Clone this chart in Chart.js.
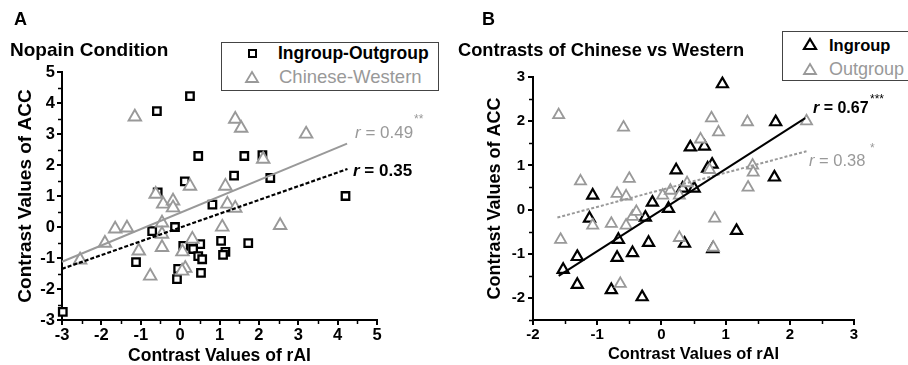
<!DOCTYPE html>
<html>
<head>
<meta charset="utf-8">
<script src="https://cdn.jsdelivr.net/npm/chart.js@4.4.1/dist/chart.umd.min.js"></script>
<style>
  html,body{margin:0;padding:0;background:#fff;}
  #wrap{position:relative;width:908px;height:365px;overflow:hidden;background:#fff;font-family:"Liberation Sans",Arial,sans-serif;}
  canvas{position:absolute;top:0;}
  .t{position:absolute;white-space:nowrap;color:#000;}
  .lb{position:absolute;border:1px solid #444;background:#fff;}
</style>
</head>
<body>
<div id="wrap">
  <canvas id="cA" width="450" height="365" style="left:0"></canvas>
  <canvas id="cB" width="458" height="365" style="left:450px"></canvas>

  <div class="t" style="left:14px;top:10px;font-size:18px;line-height:18px;font-weight:bold">A</div>
  <div class="t" style="left:10px;top:40px;font-size:19px;line-height:19px;font-weight:bold">Nopain Condition</div>
  <div class="t" style="left:482px;top:10px;font-size:18px;line-height:18px;font-weight:bold">B</div>
  <div class="t" style="left:458px;top:41px;font-size:18.3px;line-height:18.3px;font-weight:bold">Contrasts of Chinese vs Western</div>

  <!-- legend A -->
  <div class="lb" style="left:221px;top:42px;width:216px;height:47px"></div>
  <div style="position:absolute;left:248px;top:49px;width:5px;height:5px;border:2px solid #000;background:#fff"></div>
  <svg style="position:absolute;left:244px;top:70px" width="16" height="14"><polygon points="8,2 14,12 2,12" fill="#fff" stroke="#999" stroke-width="1.8"/></svg>
  <div class="t" style="left:278px;top:45px;font-size:17.5px;line-height:17.5px;font-weight:bold">Ingroup-Outgroup</div>
  <div class="t" style="left:279px;top:68px;font-size:18.5px;line-height:18.5px;color:#999">Chinese-Western</div>

  <!-- legend B -->
  <div class="lb" style="left:782px;top:31px;width:140px;height:48px"></div>
  <svg style="position:absolute;left:802px;top:37px" width="16" height="14"><polygon points="8,2 14,12 2,12" fill="#fff" stroke="#000" stroke-width="2.2"/></svg>
  <svg style="position:absolute;left:802px;top:62px" width="16" height="14"><polygon points="8,2 14,12 2,12" fill="#fff" stroke="#999" stroke-width="1.8"/></svg>
  <div class="t" style="left:829px;top:37px;font-size:16.5px;line-height:16.5px;font-weight:bold">Ingroup</div>
  <div class="t" style="left:829px;top:60px;font-size:18px;line-height:18px;color:#999">Outgroup</div>

  <!-- r annotations -->
  <div class="t" style="left:355px;top:124px;font-size:17px;line-height:17px;color:#999"><i>r</i> = 0.49</div>
  <div class="t" style="left:414px;top:113px;font-size:12px;line-height:12px;color:#999">**</div>
  <div class="t" style="left:353px;top:162px;font-size:17px;line-height:17px;font-weight:bold"><i>r</i> = 0.35</div>
  <div class="t" style="left:813px;top:100px;font-size:16px;line-height:16px;font-weight:bold"><i>r</i> = 0.67</div>
  <div class="t" style="left:870px;top:93px;font-size:12px;line-height:12px">***</div>
  <div class="t" style="left:809px;top:152px;font-size:16.5px;line-height:16.5px;color:#999"><i>r</i> = 0.38</div>
  <div class="t" style="left:870px;top:142px;font-size:12px;line-height:12px;color:#999">*</div>
</div>

<script>
// ---------- Panel A: Nopain Condition ----------
const ioX = [-0.59, 0.25, 0.46, 1.63, 2.09, 1.37, 2.29, 0.12, -0.57, 0.82, -0.13, -0.71, 4.20, -1.12, 0.08, 0.51, 0.33, 0.46, 0.56, 0.53, -0.08, 1.04, 1.15, 1.09, 1.73, -2.98, -0.05];
const ioY = [3.74, 4.22, 2.29, 2.29, 2.32, 1.66, 1.58, 1.47, 1.12, 0.72, 0.00, -0.13, 1.00, -1.13, -0.61, -0.55, -0.71, -0.94, -1.04, -1.48, -1.68, -0.45, -0.80, -0.90, -0.52, -2.74, -1.35];
const cwX = [-1.15, 1.40, 1.55, 3.20, 2.11, 0.25, 1.15, -0.62, -0.43, -0.18, -0.18, 1.20, 1.40, 2.54, 1.07, -1.65, -1.35, -0.46, -0.46, -1.91, -1.05, -0.46, 0.31, 0.06, -0.76, 0.13, 0.05, -2.54];
const cwY = [3.55, 3.48, 3.19, 3.00, 2.19, 1.32, 1.32, 1.06, 0.74, 0.84, 0.62, 0.74, 0.61, 0.05, 0.00, -0.06, -0.03, 0.13, -0.23, -0.52, -0.77, -0.66, -0.39, -0.80, -1.58, -1.33, -1.42, -1.06];
const fitCwX = [-3, 4.24], fitCwY = [-1.12, 2.69];   // r = 0.49
const fitIoX = [-3, 4.25], fitIoY = [-1.35, 1.87];   // r = 0.35

// ---------- Panel B: Contrasts of Chinese vs Western ----------
const inX = [0.95, 1.78, 0.45, 0.67, 0.79, 0.72, 0.23, 1.76, -1.07, 0.33, 0.51, -0.14, 0.11, -1.12, -0.25, -0.67, -0.20, -0.45, -0.69, -1.31, -1.53, -1.31, -0.78, -0.30, 0.36, 1.17, 0.80];
const inY = [2.84, 1.98, 1.41, 1.43, 1.02, 0.93, 0.89, 0.73, 0.32, 0.48, 0.48, 0.16, 0.02, -0.20, -0.18, -0.68, -0.75, -0.98, -1.09, -1.07, -1.36, -1.70, -1.82, -1.98, -0.77, -0.48, -0.89];
const outX = [-1.60, -0.59, 0.78, 0.89, 0.61, 1.34, 2.26, 1.42, 1.43, 1.35, -1.26, -0.50, -0.69, -0.55, 0.02, 0.14, 0.40, 0.75, -1.57, -1.07, -0.78, -0.55, -0.45, -0.39, 0.28, 0.83, 0.81, -0.64, 0.28];
const outY = [2.14, 1.86, 2.07, 1.75, 1.59, 1.98, 2.00, 1.00, 0.84, 0.50, 0.64, 0.70, 0.36, 0.30, 0.32, 0.43, 0.60, 0.90, -0.68, -0.36, -0.32, -0.36, -0.16, -0.05, -0.64, -0.20, -0.86, -1.68, 0.32];
const fitInX = [-1.60, 2.24], fitInY = [-1.50, 2.07];    // r = 0.67
const fitOutX = [-1.62, 2.26], fitOutY = [-0.18, 1.32];  // r = 0.38

const FONT = '"Liberation Sans", Arial, sans-serif';
const GRAY = '#999';

function pts(xs, ys) { return xs.map((x, i) => ({ x: x, y: ys[i] })); }

const minorTicks = {
  id: 'minorTicks',
  afterDraw(chart) {
    const ctx = chart.ctx, a = chart.chartArea, xs = chart.scales.x, ys = chart.scales.y;
    ctx.save();
    ctx.strokeStyle = '#000';
    ctx.lineWidth = 1.5;
    for (let v = Math.ceil(xs.min * 2) / 2; v <= xs.max + 1e-9; v += 0.5) {
      if (Math.abs(v - Math.round(v)) < 1e-9) continue;
      const p = Math.round(xs.getPixelForValue(v)) + 0.5;
      ctx.beginPath(); ctx.moveTo(p, a.bottom); ctx.lineTo(p, a.bottom + 4); ctx.stroke();
    }
    for (let v = Math.ceil(ys.min * 2) / 2; v <= ys.max + 1e-9; v += 0.5) {
      if (Math.abs(v - Math.round(v)) < 1e-9) continue;
      const p = Math.round(ys.getPixelForValue(v)) + 0.5;
      ctx.beginPath(); ctx.moveTo(a.left, p); ctx.lineTo(a.left - 4, p); ctx.stroke();
    }
    ctx.restore();
  }
};

function axis(min, max, tickSize, tickPad, titleText, titleSize, titlePad, fitFn) {
  return {
    type: 'linear', min: min, max: max,
    afterFit: fitFn,
    ticks: {
      stepSize: 1, padding: tickPad, color: '#000', autoSkip: false,
      font: { family: FONT, size: tickSize, weight: 'bold' },
      callback: v => (Math.abs(v - Math.round(v)) < 1e-9 ? String(Math.round(v)) : '')
    },
    grid: {
      drawOnChartArea: false, drawTicks: true, tickLength: 5, lineWidth: 2,
      color: c => (c.tick && Math.abs(c.tick.value - Math.round(c.tick.value)) < 1e-9) ? '#000' : 'rgba(0,0,0,0)'
    },
    border: { display: true, color: '#000', width: 2 },
    title: {
      display: true, text: titleText, color: '#000', padding: titlePad,
      font: { family: FONT, size: titleSize, weight: 'bold', lineHeight: 1 }
    }
  };
}

function scatterSet(label, xs, ys, style, radius, color, bw, order) {
  return {
    type: 'scatter', label: label, data: pts(xs, ys), order: order, clip: false,
    pointStyle: style, pointRadius: radius, pointHoverRadius: radius,
    pointBorderColor: color, pointBackgroundColor: '#fff', pointBorderWidth: bw,
    borderColor: color, backgroundColor: '#fff', showLine: false
  };
}
function lineSet(label, xs, ys, color, width, dash, order) {
  return {
    type: 'scatter', label: label, data: pts(xs, ys), order: order, clip: false,
    showLine: true, borderColor: color, borderWidth: width, borderDash: dash,
    pointRadius: 0, pointHoverRadius: 0, fill: false, tension: 0
  };
}

const common = {
  responsive: false, animation: false, devicePixelRatio: 1,
  plugins: { legend: { display: false }, tooltip: { enabled: false }, title: { display: false } },
  events: []
};

new Chart(document.getElementById('cA'), {
  type: 'scatter',
  data: {
    datasets: [
      lineSet('Chinese-Western fit', fitCwX, fitCwY, GRAY, 2, [], 0),
      lineSet('Ingroup-Outgroup fit', fitIoX, fitIoY, '#000', 2.2, [4, 2], 0),
      scatterSet('Chinese-Western', cwX, cwY, 'triangle', 7.2, GRAY, 1.9, 1),
      scatterSet('Ingroup-Outgroup', ioX, ioY, 'rect', 5.3, '#000', 2.3, 2)
    ]
  },
  options: Object.assign({}, common, {
    layout: { padding: { top: 72, right: 73, left: 0, bottom: 0 } },
    scales: {
      x: axis(-3, 5, 16.5, 1, 'Contrast Values of rAI', 17.5, { top: 0, bottom: 0 }, s => { s.height = 45; }),
      y: axis(-3, 5, 16.5, 2, 'Contrast Values of ACC', 19, { top: 16, bottom: 0 }, s => { s.width = 62; })
    }
  }),
  plugins: [minorTicks]
});

new Chart(document.getElementById('cB'), {
  type: 'scatter',
  data: {
    datasets: [
      lineSet('Ingroup fit', fitInX, fitInY, '#000', 2, [], 0),
      lineSet('Outgroup fit', fitOutX, fitOutY, GRAY, 2, [3, 2], 0),
      scatterSet('Outgroup', outX, outY, 'triangle', 6.4, GRAY, 1.8, 1),
      scatterSet('Ingroup', inX, inY, 'triangle', 6.4, '#000', 2.2, 2)
    ]
  },
  options: Object.assign({}, common, {
    layout: { padding: { top: 77, right: 54, left: 0, bottom: 0 } },
    scales: {
      x: axis(-2, 3, 15, 1, 'Contrast Values of rAI', 16.4, { top: 0, bottom: 2 }, s => { s.height = 45; }),
      y: axis(-2.5, 3, 15, 3, 'Contrast Values of ACC', 18, { top: 36, bottom: 0 }, s => { s.width = 83; })
    }
  }),
  plugins: [minorTicks]
});
</script>
</body>
</html>
